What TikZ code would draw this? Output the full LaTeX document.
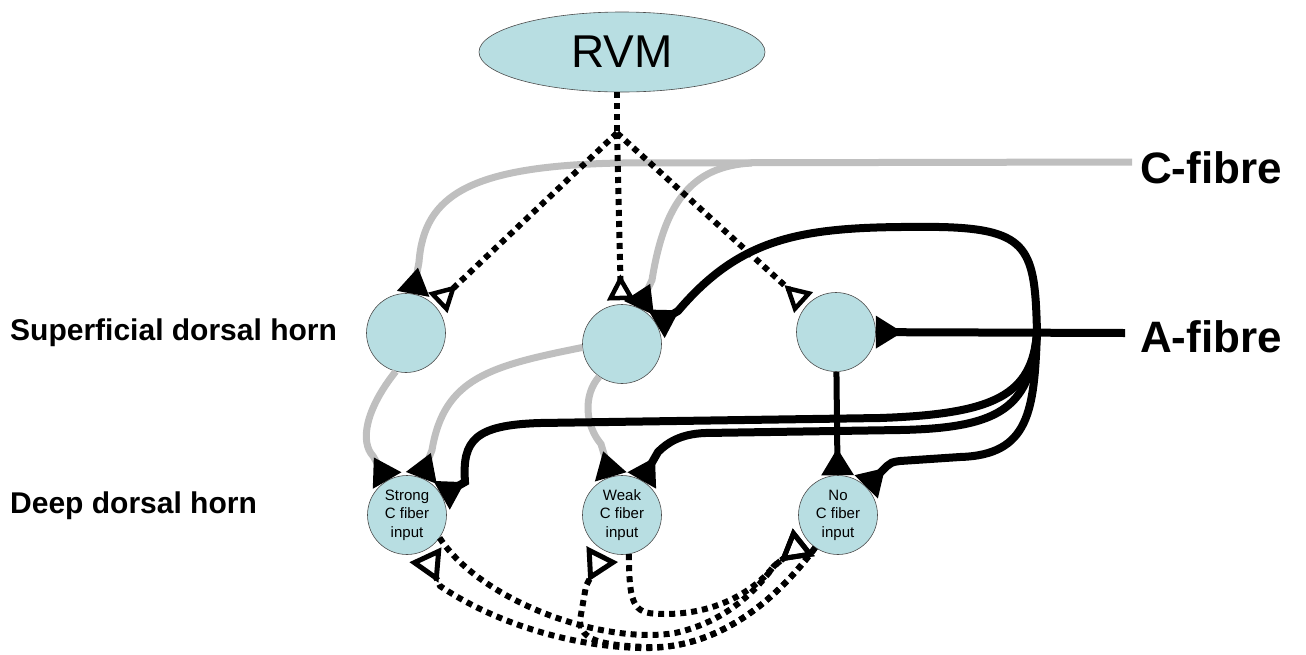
\documentclass[tikz,border=0pt]{standalone}
\usepackage{fontspec}
\setmainfont{Liberation Sans}
\usetikzlibrary{arrows.meta,shapes.geometric}

\definecolor{cellblue}{RGB}{184,222,226}
\definecolor{cgrey}{RGB}{191,191,191}

\tikzset{
  cell/.style={circle,draw=black!70,line width=0.6pt,fill=cellblue,minimum size=79pt,
    inner sep=0pt,align=center,font=\fontsize{15}{18.5}\selectfont},
  cfib/.style={cgrey,line width=7pt},
  afib/.style={black,line width=8pt},
  rvmfib/.style={black,line width=6pt,dash pattern=on 6pt off 5pt},
  syn/.tip={Triangle[reversed,length=27pt,width=31pt,color=black]},
  osyn/.tip={Triangle[open,reversed,length=26pt,width=27pt,line width=4.5pt]},
  bigosyn/.tip={Triangle[open,reversed,length=31pt,width=34pt,line width=5pt]},
  rvmsyn/.style={rvmfib,-osyn,shorten >=4pt},
  deepsyn/.style={rvmfib,-bigosyn,shorten >=4pt},
  lab/.style={font=\bfseries\fontsize{30}{36}\selectfont,anchor=base west,inner sep=0pt},
  fib/.style={font=\bfseries\fontsize{44}{52}\selectfont,anchor=base west,inner sep=0pt}
}

\begin{document}
\begin{tikzpicture}[x=1pt,y=-1pt]
  % cadru
  \useasboundingbox (0,0) rectangle (1306,654);

  % elipsa RVM
  \node[ellipse,draw=black!70,line width=0.6pt,fill=cellblue,minimum width=286pt,
    minimum height=80pt,inner sep=0pt,font=\fontsize{46}{50}\selectfont] (rvm) at (622,52) {RVM};

  % celule superficiale
  \node[cell] (sup1) at (406,333) {};
  \node[cell] (sup2) at (622,344) {};
  \node[cell] (sup3) at (836,332) {};
  % celule profunde
  \node[cell] (strong) at (407,515) {Strong\\C fiber\\input};
  \node[cell] (weak) at (622,515) {Weak\\C fiber\\input};
  \node[cell] (no) at (838,515) {No\\C fiber\\input};

  % etichete
  \node[lab] (suplab) at (10,340) {Superficial dorsal horn};
  \node[lab] (deeplab) at (10,513) {Deep dorsal horn};
  \node[fib] (clab) at (1140,183) {C-fibre};
  \node[fib] (alab) at (1140,352) {A-fibre};

  % puncte de intrare
  \coordinate (cin) at (1132,162);
  \coordinate (cbr) at (752,163);
  \coordinate (ain) at (1125,333);
  \coordinate (aj) at (1037,333);
  \coordinate (rj) at (617,133);

  % fibre C
  \draw[cfib,-syn] (cin) -- (620,163) .. controls (470,166) and (424,195) .. (419,262) -- (sup1);
  \draw[cfib,-syn] (cbr) .. controls (690,166) and (664,205) .. (652,280) -- (sup2);
  \draw[cfib,-syn] (sup1.255) .. controls (365,410) and (360,442) .. (373,456) -- (strong);
  \draw[cfib,-syn] (sup2.185) .. controls (490,366) and (444,378) .. (432,450) -- (strong);
  \draw[cfib,-syn] (sup2.235) .. controls (583,395) and (585,425) .. (601,444) -- (weak);

  % căi descendente RVM
  \draw[rvmfib] (rvm.south -| rj) -- (rj);
  \draw[rvmsyn] (rj) -- (sup1);
  \draw[rvmsyn] (rj) -- (sup2);
  \draw[rvmsyn] (rj) -- (sup3);

  % conexiuni între celulele profunde
  \draw[deepsyn] (strong.-35) .. controls (480,600) and (600,645) .. (675,633)
    .. controls (725,622) and (755,592) .. (774,566) -- (no);
  \draw[deepsyn] (weak.-80) .. controls (629,610) and (635,614) .. (665,614)
    .. controls (720,614) and (757,588) .. (774,566) -- (no);
  \draw[deepsyn] (no.-125) .. controls (765,615) and (705,650) .. (640,648)
    .. controls (565,646) and (490,620) .. (440,586) -- (strong);
  \draw[deepsyn] (no.-125) .. controls (765,615) and (705,650) .. (645,647)
    .. controls (600,645) and (580,640) .. (580,620) -- (586,586) -- (weak);

  % fibre A
  \draw[afib,-syn] (ain) -- (sup3);
  \draw[afib,-syn] (aj) .. controls (1035,250) and (1030,229) .. (940,227)
    .. controls (810,226) and (745,232) .. (678,311) -- (sup2);
  \draw[afib,-syn] (aj) .. controls (1032,395) and (995,414) .. (880,418) -- (540,423)
    .. controls (475,425) and (462,440) .. (465,482) -- (strong);
  \draw[afib,-syn] (aj) .. controls (1030,405) and (1005,428) .. (900,430) -- (705,433)
    .. controls (680,434) and (667,443) .. (658,452) -- (weak);
  \draw[afib,-syn] (aj) .. controls (1034,410) and (1030,455) .. (960,457) -- (900,461)
    .. controls (892,462) and (890,463) .. (887,466) -- (no);
  \draw[afib,line width=6pt,-syn] (sup3) -- (no);
\end{tikzpicture}
\end{document}
